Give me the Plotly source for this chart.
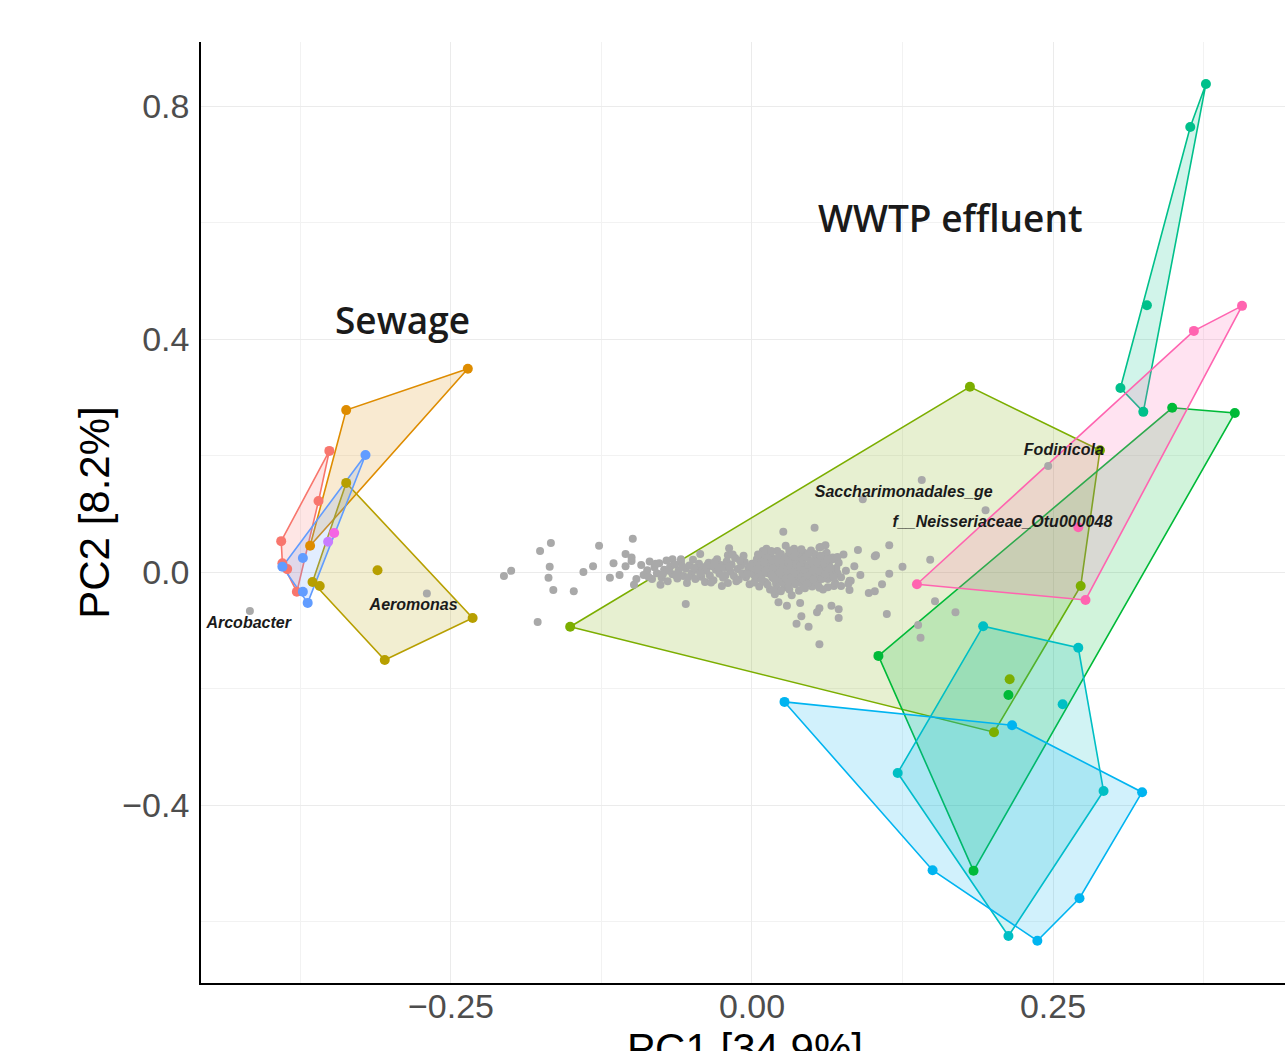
import plotly.graph_objects as go

# ---------------- data ----------------
group_names = ["S1", "S2", "S3", "S4", "S5", "W1", "W2", "W3", "W4", "W5", "W6", "W7"]
group_colors = ["#F8766D", "#DE8C00", "#B79F00", "#619CFF", "#C77CFF", "#F564E3",
                "#7CAE00", "#00BA38", "#00C08B", "#00BFC4", "#00B4F0", "#FF64B0"]

red_x = [-0.351, -0.360, -0.391, -0.390, -0.386, -0.378]
red_y = [0.208, 0.122, 0.053, 0.015, 0.005, -0.034]
orange_x = [-0.236, -0.337, -0.367]
orange_y = [0.349, 0.278, 0.045]
olive_x = [-0.337, -0.311, -0.365, -0.359, -0.232, -0.305]
olive_y = [0.153, 0.003, -0.017, -0.024, -0.079, -0.151]
blue_x = [-0.321, -0.390, -0.373, -0.373, -0.369]
blue_y = [0.201, 0.009, 0.024, -0.034, -0.053]
purple_x = [-0.352]
purple_y = [0.052]
magenta_x = [-0.347]
magenta_y = [0.067]
ygreen_x = [-0.151, 0.181, 0.289, 0.273, 0.201, 0.214]
ygreen_y = [-0.094, 0.318, 0.209, -0.024, -0.275, -0.184]
green_x = [0.349, 0.401, 0.105, 0.184, 0.213]
green_y = [0.282, 0.273, -0.144, -0.513, -0.211]
teal_x = [0.377, 0.364, 0.328, 0.306, 0.325]
teal_y = [0.838, 0.764, 0.458, 0.316, 0.275]
cyan_x = [0.192, 0.271, 0.292, 0.213, 0.121, 0.258]
cyan_y = [-0.093, -0.130, -0.376, -0.625, -0.345, -0.227]
sky_x = [0.027, 0.216, 0.324, 0.272, 0.237, 0.150]
sky_y = [-0.223, -0.263, -0.378, -0.560, -0.633, -0.512]
pink_x = [0.407, 0.367, 0.137, 0.277, 0.271]
pink_y = [0.457, 0.414, -0.021, -0.048, 0.077]

groups_x = [red_x, orange_x, olive_x, blue_x, purple_x, magenta_x,
            ygreen_x, green_x, teal_x, cyan_x, sky_x, pink_x]
groups_y = [red_y, orange_y, olive_y, blue_y, purple_y, magenta_y,
            ygreen_y, green_y, teal_y, cyan_y, sky_y, pink_y]

# taxa loadings (gray points)
taxa_pts = [
    (-0.206, -0.007), (-0.200, 0.002), (-0.176, 0.036), (-0.167, 0.050), (-0.168, 0.009),
    (-0.169, -0.010), (-0.165, -0.031), (-0.148, -0.033), (-0.178, -0.086), (-0.127, 0.045),
    (-0.140, 0.000), (-0.132, 0.010), (-0.118, -0.010), (-0.099, 0.057), (-0.105, 0.031),
    (-0.100, 0.019), (-0.098, -0.022), (-0.076, -0.022), (-0.055, -0.055), (-0.066, 0.022),
    (-0.059, 0.022), (-0.043, 0.031), (-0.019, 0.041), (-0.020, 0.029), (0.026, 0.069),
    (0.052, 0.076), (0.057, 0.043), (0.061, 0.046), (0.103, 0.029), (0.114, 0.046),
    (0.114, -0.003), (0.108, -0.021), (0.097, -0.036), (0.102, -0.033), (0.112, -0.072),
    (0.072, -0.079), (0.072, -0.064), (0.066, -0.058), (0.056, -0.062), (0.054, -0.069),
    (0.047, -0.094), (0.037, -0.089), (0.041, -0.076), (0.040, -0.053), (0.029, -0.058),
    (0.022, -0.052), (0.081, -0.015), (0.081, -0.031), (0.074, -0.024), (0.068, -0.024),
    (0.063, -0.026), (0.056, -0.027), (0.071, -0.002), (0.062, -0.007), (0.067, 0.022),
    (0.065, 0.021), (0.060, 0.029), (0.059, 0.012), (0.141, 0.158), (0.092, 0.125),
    (0.194, 0.106), (0.246, 0.182), (0.102, 0.027), (0.125, 0.009), (0.148, 0.021),
    (0.082, -0.015), (0.152, -0.050), (0.169, -0.069), (0.138, -0.091), (0.140, -0.113),
    (0.056, -0.124), (-0.417, -0.067), (-0.270, -0.037),
    (-0.115, 0.015), (-0.110, -0.005), (-0.105, 0.010), (-0.100, 0.025), (-0.096, -0.012),
    (-0.092, 0.012), (-0.090, -0.005), (-0.087, 0.003), (-0.085, 0.018), (-0.083, -0.012),
    (-0.081, 0.008), (-0.079, -0.002), (-0.077, 0.015), (-0.075, -0.010), (-0.073, 0.004),
    (-0.071, 0.020), (-0.070, -0.016), (-0.068, 0.009), (-0.066, -0.004), (-0.064, 0.013),
    (-0.062, -0.011), (-0.061, 0.002), (-0.059, 0.017), (-0.057, -0.007), (-0.055, 0.006),
    (-0.054, -0.019), (-0.052, 0.011), (-0.050, -0.002), (-0.049, 0.021), (-0.047, -0.012),
    (-0.045, 0.004), (-0.044, 0.014), (-0.042, -0.008), (-0.040, 0.008), (-0.039, -0.017),
    (-0.038, 0.002), (-0.036, 0.016), (-0.035, -0.006), (-0.033, 0.010), (-0.032, -0.014),
    (-0.030, 0.004), (-0.029, 0.022), (-0.027, -0.003), (-0.026, 0.012), (-0.024, -0.010),
    (-0.023, 0.007), (-0.021, 0.018), (-0.020, -0.019), (-0.018, 0.001), (-0.017, 0.013),
    (-0.015, -0.007), (-0.014, 0.024), (-0.012, 0.005), (-0.011, -0.013), (-0.009, 0.011),
    (-0.008, -0.002), (-0.006, 0.017), (-0.005, -0.009), (-0.003, 0.006), (-0.002, -0.021),
    (0.000, 0.014), (0.001, -0.004), (-0.016, 0.030), (-0.025, -0.024), (-0.007, 0.028),
    (0.002, 0.008), (0.003, -0.012), (0.004, 0.022), (0.005, 0.000), (0.006, -0.025),
    (0.007, 0.014), (0.008, -0.006), (0.009, 0.031), (0.010, 0.004), (0.011, -0.017),
    (0.012, 0.019), (0.013, -0.002), (0.014, 0.010), (0.015, -0.030), (0.016, 0.026),
    (0.017, -0.010), (0.018, 0.003), (0.019, 0.016), (0.020, -0.020), (0.021, 0.036),
    (0.022, -0.004), (0.023, 0.008), (0.024, -0.014), (0.025, 0.021), (0.026, 0.000),
    (0.027, -0.026), (0.028, 0.013), (0.029, -0.007), (0.030, 0.028), (0.031, 0.005),
    (0.032, -0.017), (0.033, 0.017), (0.034, -0.002), (0.035, 0.040), (0.036, 0.009),
    (0.037, -0.012), (0.038, 0.024), (0.039, -0.032), (0.040, 0.002), (0.041, 0.015),
    (0.042, -0.021), (0.043, 0.033), (0.044, -0.006), (0.045, 0.011), (0.012, 0.040),
    (0.019, -0.038), (0.028, 0.045), (0.033, -0.040), (0.008, 0.020), (0.022, 0.025),
    (0.030, -0.022), (0.015, 0.004), (0.025, -0.009), (0.035, 0.019), (0.040, -0.015),
    (0.018, 0.012), (0.027, 0.006), (0.006, -0.003), (0.038, 0.006), (0.011, 0.027),
    (0.046, 0.025), (0.047, -0.013), (0.048, 0.004), (0.049, 0.037), (0.050, -0.025),
    (0.051, 0.014), (0.052, -0.004), (0.053, 0.028), (0.054, -0.016), (0.055, 0.008),
    (0.056, 0.042), (0.057, -0.008), (0.058, 0.019), (0.059, -0.030), (0.060, 0.003),
    (0.062, 0.033), (0.063, -0.012), (0.064, 0.012), (0.066, -0.003), (0.067, 0.025),
    (0.069, -0.019), (0.070, 0.007), (0.072, 0.016), (0.074, -0.009), (0.076, 0.030),
    (0.078, 0.002), (0.080, -0.020), (0.085, 0.010), (0.088, 0.038), (0.090, -0.005),
    (-0.086, -0.008), (-0.080, 0.014), (-0.074, -0.004), (-0.069, 0.002), (-0.063, -0.006),
    (-0.058, 0.010), (-0.053, -0.009), (-0.048, 0.007), (-0.043, -0.003), (-0.037, 0.012),
    (-0.034, -0.018), (-0.031, 0.017), (-0.028, 0.008), (-0.022, -0.006), (-0.019, 0.009),
    (-0.013, -0.016), (-0.010, 0.020), (-0.004, -0.004), (-0.001, 0.009), (0.002, -0.018),
    (0.004, 0.004), (0.006, 0.011), (0.008, -0.013), (0.010, 0.016), (0.011, 0.001),
    (0.013, -0.022), (0.014, 0.029), (0.016, -0.005), (0.017, 0.020), (0.019, -0.013),
    (0.020, 0.007), (0.021, -0.029), (0.022, 0.015), (0.023, -0.001), (0.024, 0.031),
    (0.025, -0.018), (0.026, 0.011), (0.027, 0.023), (0.028, -0.011), (0.029, 0.002),
    (0.030, 0.016), (0.031, -0.030), (0.032, 0.009), (0.033, -0.009), (0.034, 0.027),
    (0.035, 0.001), (0.036, -0.021), (0.037, 0.013), (0.038, -0.004), (0.039, 0.032),
    (0.040, 0.010), (0.041, -0.008), (0.042, 0.021), (0.043, -0.014), (0.044, 0.004),
    (0.045, 0.026), (0.046, -0.020), (0.047, 0.012), (0.048, -0.006), (0.049, 0.019),
    (0.050, 0.002), (0.051, -0.013), (0.052, 0.031), (0.053, 0.006), (0.054, 0.017),
    (0.055, -0.023), (0.056, 0.001), (0.057, 0.028), (0.058, -0.012), (0.060, 0.014),
    (0.061, -0.004), (0.063, 0.022), (0.065, 0.006), (0.068, -0.010), (0.071, 0.026),
    (0.009, 0.036), (0.018, -0.032), (0.031, 0.037), (0.044, -0.028), (0.005, 0.030),
    (0.016, 0.036), (0.036, 0.033), (0.047, 0.032), (0.024, -0.033), (0.041, 0.039),
]
taxa_x = [p[0] for p in taxa_pts]
taxa_y = [p[1] for p in taxa_pts]

taxa_labels = ["Fodinicola", "Saccharimonadales_ge", "f__Neisseriaceae_Otu000048",
               "Aeromonas", "Arcobacter"]
taxa_label_x = [0.259, 0.126, 0.208, -0.281, -0.418]
taxa_label_y = [0.208, 0.136, 0.084, -0.058, -0.089]

group_labels = ["WWTP effluent", "Sewage"]
group_label_x = [0.165, -0.290]
group_label_y = [0.609, 0.433]

x_tickvals = [-0.25, 0.0, 0.25]
y_tickvals = [-0.4, 0.0, 0.4, 0.8]


def hex_rgba(h, a):
    h = h.lstrip("#")
    return "rgba(%d,%d,%d,%.2f)" % (int(h[0:2], 16), int(h[2:4], 16), int(h[4:6], 16), a)


def convex_hull(xs, ys):
    pts = sorted(set(zip(xs, ys)))
    if len(pts) <= 2:
        return pts

    def cross(o, a, b):
        return (a[0] - o[0]) * (b[1] - o[1]) - (a[1] - o[1]) * (b[0] - o[0])
    lower, upper = [], []
    for p in pts:
        while len(lower) >= 2 and cross(lower[-2], lower[-1], p) <= 0:
            lower.pop()
        lower.append(p)
    for p in reversed(pts):
        while len(upper) >= 2 and cross(upper[-2], upper[-1], p) <= 0:
            upper.pop()
        upper.append(p)
    return lower[:-1] + upper[:-1]


fig = go.Figure()

# hull polygons
for gx, gy, col in zip(groups_x, groups_y, group_colors):
    if len(gx) < 3:
        continue
    hull = convex_hull(gx, gy)
    hx = [p[0] for p in hull] + [hull[0][0]]
    hy = [p[1] for p in hull] + [hull[0][1]]
    fig.add_trace(go.Scatter(x=hx, y=hy, mode="lines", fill="toself",
                             fillcolor=hex_rgba(col, 0.18),
                             line=dict(color=col, width=1.6),
                             hoverinfo="skip", showlegend=False))

# taxa points
fig.add_trace(go.Scatter(x=taxa_x, y=taxa_y, mode="markers",
                         marker=dict(color="#A9A9A9", size=8, line=dict(width=0)),
                         showlegend=False))

# sample points
for gx, gy, col, nm in zip(groups_x, groups_y, group_colors, group_names):
    fig.add_trace(go.Scatter(x=gx, y=gy, mode="markers", name=nm,
                             marker=dict(color=col, size=10, line=dict(width=0)),
                             showlegend=False))

# taxa labels
fig.add_trace(go.Scatter(x=taxa_label_x, y=taxa_label_y, mode="text",
                         text=["<b><i>%s</i></b>" % t for t in taxa_labels],
                         textfont=dict(family="Liberation Sans", size=16, color="#1a1a1a"),
                         textposition="middle center", showlegend=False, hoverinfo="skip"))

# group annotations
for t, x, y in zip(group_labels, group_label_x, group_label_y):
    fig.add_annotation(x=x, y=y, text=t, showarrow=False,
                       font=dict(family="Open Sans", size=37, color="#1a1a1a", weight=600))

fig.update_layout(
    width=1300, height=1090,
    margin=dict(l=201, r=11, t=42, b=107, autoexpand=False),
    paper_bgcolor="white", plot_bgcolor="white",
    showlegend=False,
    font=dict(family="Liberation Sans"),
)
fig.update_xaxes(
    range=[-0.4576, 0.446], tickvals=x_tickvals, tickformat=".2f",
    showgrid=True, gridcolor="#EBEBEB", gridwidth=1.3,
    minor=dict(showgrid=True, dtick=0.125, tick0=0, gridcolor="#F2F2F2", gridwidth=1),
    zeroline=False, showline=True, linecolor="black", linewidth=1.6,
    ticks="", ticklabelstandoff=-8,
    tickfont=dict(family="Liberation Sans", size=34, color="#4D4D4D"),
    title=dict(text="PC1 [34.9%]", font=dict(family="Liberation Sans", size=42, color="black"),
               standoff=4),
    automargin=False,
)
fig.update_yaxes(
    range=[-0.7056, 0.910], tickvals=y_tickvals, tickformat=".1f",
    showgrid=True, gridcolor="#EBEBEB", gridwidth=1.3,
    minor=dict(showgrid=True, dtick=0.2, tick0=0, gridcolor="#F2F2F2", gridwidth=1),
    zeroline=False, showline=True, linecolor="black", linewidth=1.6,
    ticks="outside", ticklen=3, tickcolor="rgba(0,0,0,0)",
    tickfont=dict(family="Liberation Sans", size=34, color="#4D4D4D"),
    title=dict(text="PC2 [8.2%]", font=dict(family="Liberation Sans", size=42, color="black"),
               standoff=0),
    automargin=False,
)

fig.write_html("out.html", config={"displayModeBar": False},
               post_script="document.body.style.margin='0';document.body.style.overflow='hidden';")
